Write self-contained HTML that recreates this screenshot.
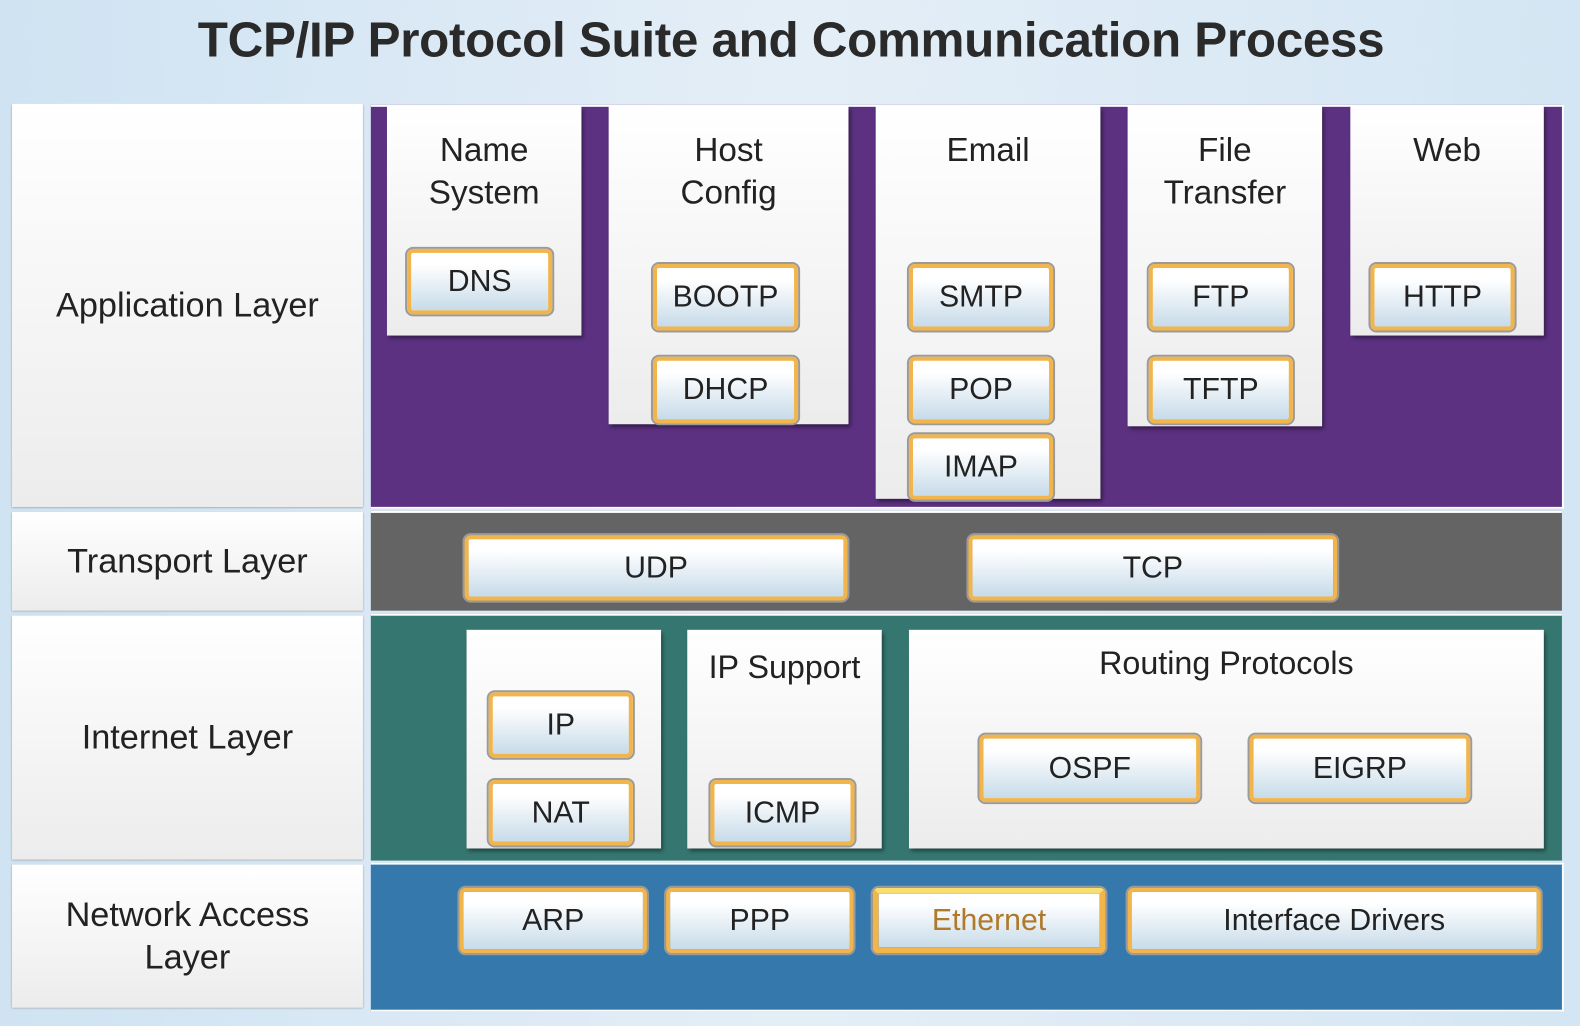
<!DOCTYPE html>
<html><head><style>
body{margin:0;width:1580px;height:1026px;overflow:hidden;background:linear-gradient(90deg,#cfe3f2,#e4eef7 50%,#d4e6f3);font-family:"Liberation Sans",sans-serif;}
#c{position:relative;width:1568px;height:1018px;transform:scale(1.0077);transform-origin:0 0}
.a{position:absolute}
.t{left:0;width:1570px;top:12px;text-align:center;font-size:49px;font-weight:bold;color:#2a2a2a;letter-spacing:-0.3px}
.l{background:linear-gradient(#fff,#ececec);left:12px;width:348px;display:flex;align-items:center;justify-content:center;text-align:center;font-size:34px;color:#222;line-height:42px;box-shadow:0 1px 2px #999}
.p{left:368px;width:1182px}
.w{background:linear-gradient(#fff,#ececec);box-shadow:2px 3px 4px rgba(0,0,0,.45);text-align:center;font-size:33px;color:#222;line-height:42px;padding-top:23px;box-sizing:border-box}
.b{box-sizing:border-box;border:4px solid #f2b54c;border-radius:6px;background:linear-gradient(#fff 20%,#c7dbe9);box-shadow:0 0 0 2px #9a9a9a;display:flex;align-items:center;justify-content:center;font-size:30px;color:#222}
</style></head><body><div id="c">
<div class="a t">TCP/IP Protocol Suite and Communication Process</div>
<div class="a l" style="top:103px;height:400px">Application Layer</div>
<div class="a l" style="top:508px;height:98px">Transport Layer</div>
<div class="a l" style="top:611px;height:242px">Internet Layer</div>
<div class="a l" style="top:858px;height:142px">Network Access<br>Layer</div>

<div class="a p" style="top:104px;height:397px;background:#5c3182;border:2px solid #fff;border-left:0"></div>
<div class="a p" style="top:507px;height:97px;background:#646464;border-top:2px solid #fff"></div>
<div class="a p" style="top:609px;height:243px;background:#357770;border-top:2px solid #fff"></div>
<div class="a p" style="top:856px;height:144px;background:#3579ac;border:2px solid #fff;border-left:0"></div>

<div class="a w" style="left:384px;top:105px;width:193px;height:228px">Name<br>System</div>
<div class="a w" style="left:604px;top:105px;width:238px;height:316px">Host<br>Config</div>
<div class="a w" style="left:869px;top:105px;width:223px;height:390px">Email</div>
<div class="a w" style="left:1119px;top:105px;width:193px;height:318px">File<br>Transfer</div>
<div class="a w" style="left:1340px;top:105px;width:192px;height:228px">Web</div>

<div class="a b" style="left:404px;top:247px;width:144px;height:65px">DNS</div>
<div class="a b" style="left:648px;top:262px;width:144px;height:66px">BOOTP</div>
<div class="a b" style="left:648px;top:354px;width:144px;height:66px">DHCP</div>
<div class="a b" style="left:902px;top:262px;width:143px;height:66px">SMTP</div>
<div class="a b" style="left:902px;top:354px;width:143px;height:66px">POP</div>
<div class="a b" style="left:902px;top:431px;width:143px;height:65px">IMAP</div>
<div class="a b" style="left:1140px;top:262px;width:143px;height:66px">FTP</div>
<div class="a b" style="left:1140px;top:354px;width:143px;height:66px">TFTP</div>
<div class="a b" style="left:1360px;top:262px;width:143px;height:66px">HTTP</div>

<div class="a b" style="left:461px;top:531px;width:380px;height:65px">UDP</div>
<div class="a b" style="left:961px;top:531px;width:366px;height:65px">TCP</div>

<div class="a w" style="left:463px;top:625px;width:193px;height:217px"></div>
<div class="a w" style="left:682px;top:625px;width:193px;height:217px;padding-top:16px;font-size:32px">IP Support</div>
<div class="a w" style="left:902px;top:625px;width:630px;height:217px;padding-top:12px;font-size:32px">Routing Protocols</div>
<div class="a b" style="left:485px;top:687px;width:143px;height:65px">IP</div>
<div class="a b" style="left:485px;top:774px;width:143px;height:65px">NAT</div>
<div class="a b" style="left:705px;top:774px;width:143px;height:65px">ICMP</div>
<div class="a b" style="left:972px;top:729px;width:219px;height:67px">OSPF</div>
<div class="a b" style="left:1240px;top:729px;width:219px;height:67px">EIGRP</div>

<div class="a b" style="left:456px;top:881px;width:186px;height:65px">ARP</div>
<div class="a b" style="left:661px;top:881px;width:186px;height:65px">PPP</div>
<div class="a b" style="left:866px;top:881px;width:231px;height:65px;border-width:6px;border-top-color:#f7de70;color:#b07a2a">Ethernet</div>
<div class="a b" style="left:1119px;top:881px;width:410px;height:65px">Interface Drivers</div>
</div></body></html>
